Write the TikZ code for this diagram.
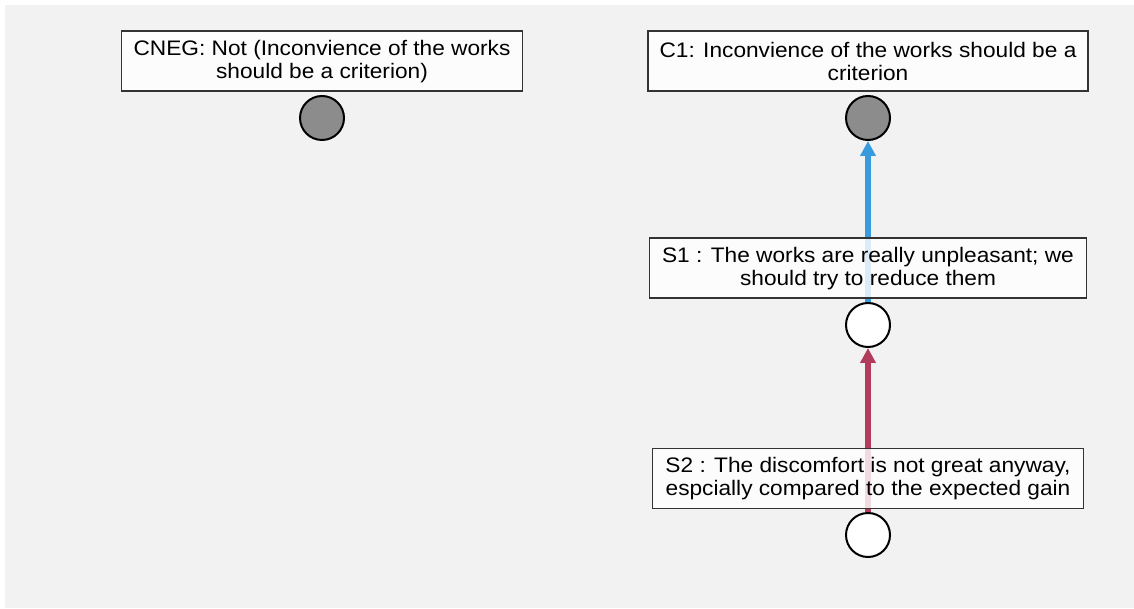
\documentclass[tikz,border=0pt]{standalone}
\usepackage{fontspec}
\setmainfont{Liberation Sans}[FakeStretch=1.08]
\usetikzlibrary{positioning,arrows.meta}
\definecolor{bggray}{RGB}{242,242,242}
\definecolor{dotgray}{RGB}{140,140,140}
\definecolor{supblue}{RGB}{56,155,221}
\definecolor{attred}{RGB}{178,60,92}
\begin{document}
\begin{tikzpicture}[x=1pt, y=1pt,
	claim/.style={draw=black!80, line width=1.5pt, fill=white, fill opacity=0.82, text opacity=1,
		align=center, minimum height=60pt, inner xsep=0pt, font=\fontsize{21}{23}\selectfont},
	dot/.style={circle, draw=black, line width=2pt, minimum size=44pt, inner sep=0pt},
	link/.style={line width=5.5pt, -{Triangle[width=15pt,length=15pt]}}]
	\useasboundingbox (0, 0) rectangle (1134, 608);
	\fill[bggray] (5, 0) rectangle (1134, 603);
	% circles first, so the links run under the boxes
	\node[dot, fill=dotgray] (cnegdot) at (322, 490) {};
	\node[dot, fill=dotgray] (c1dot) at (868, 490) {};
	\node[dot, fill=white] (s1dot) at (868, 283) {};
	\node[dot, fill=white] (s2dot) at (868, 73) {};
	\draw[link, supblue] (s1dot) -- (c1dot);
	\draw[link, attred] (s2dot) -- (s1dot);
	\node[claim, minimum width=401pt, above=3pt of cnegdot] (cneg) {CNEG: Not (Inconvience of the works\\should be a criterion)};
	\node[claim, minimum width=440pt, above=3pt of c1dot] (c1) {C1: Inconvience of the works should be a\\criterion};
	\node[claim, minimum width=437pt, above=3pt of s1dot] (s1) {S1 : The works are really unpleasant; we\\should try to reduce them};
	\node[claim, minimum width=431pt, above=3pt of s2dot] (s2) {S2 : The discomfort is not great anyway,\\espcially compared to the expected gain};
\end{tikzpicture}
\end{document}
